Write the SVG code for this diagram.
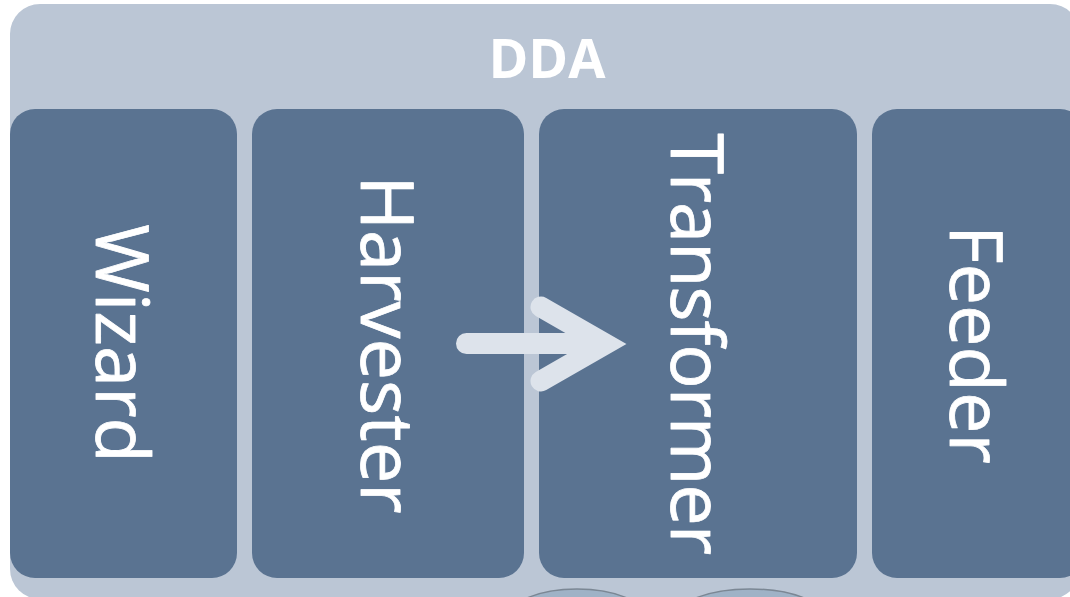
<svg xmlns="http://www.w3.org/2000/svg" width="1070" height="597" viewBox="0 0 1070 597">
<style>
.box{fill:#5a7391}
.lbl{font-family:"Open Sans","Noto Sans",sans-serif;font-size:74px;fill:#fff;stroke:#fff;stroke-width:.8;stroke-linejoin:round;text-anchor:middle}
.db{fill:#9fb2c6;stroke:#7b8794;stroke-width:1.5}
.conn{fill:none;stroke:#dde3eb;stroke-width:21;stroke-linecap:round}
</style>
<rect width="1070" height="597" fill="#fff"/>
<g id="dda">
<rect x="10" y="4" width="1070" height="595" rx="30" fill="#bbc6d5"/>
<text x="547" y="78" font-family="'Open Sans','Noto Sans',sans-serif" font-size="54" font-weight="700" fill="#fff" text-anchor="middle">DDA</text>
</g>
<g id="wizard"><rect class="box" x="10" y="109" width="227" height="469" rx="25"/><text class="lbl" transform="translate(96 343.500) rotate(90)">Wizard</text></g>
<g id="harvester"><rect class="box" x="252" y="109" width="272" height="469" rx="25"/><text class="lbl" transform="translate(360.500 344.500) rotate(90)">Harvester</text></g>
<g id="transformer"><rect class="box" x="539" y="109" width="318" height="469" rx="25"/><text class="lbl" letter-spacing="-1.1" transform="translate(671 343.500) rotate(90)">Transformer</text></g>
<g id="feeder"><rect class="box" x="872" y="109" width="213" height="469" rx="25"/><text class="lbl" transform="translate(950 344.500) rotate(90)">Feeder</text></g>
<g id="store1"><ellipse class="db" cx="577" cy="619" rx="70" ry="30"/></g>
<g id="store2"><ellipse class="db" cx="750" cy="619" rx="76" ry="30"/></g>
<g id="connectors">
<path class="conn" d="M466.500 343.500H600M541 307L605.400 344L541 381"/>
</g>
</svg>
